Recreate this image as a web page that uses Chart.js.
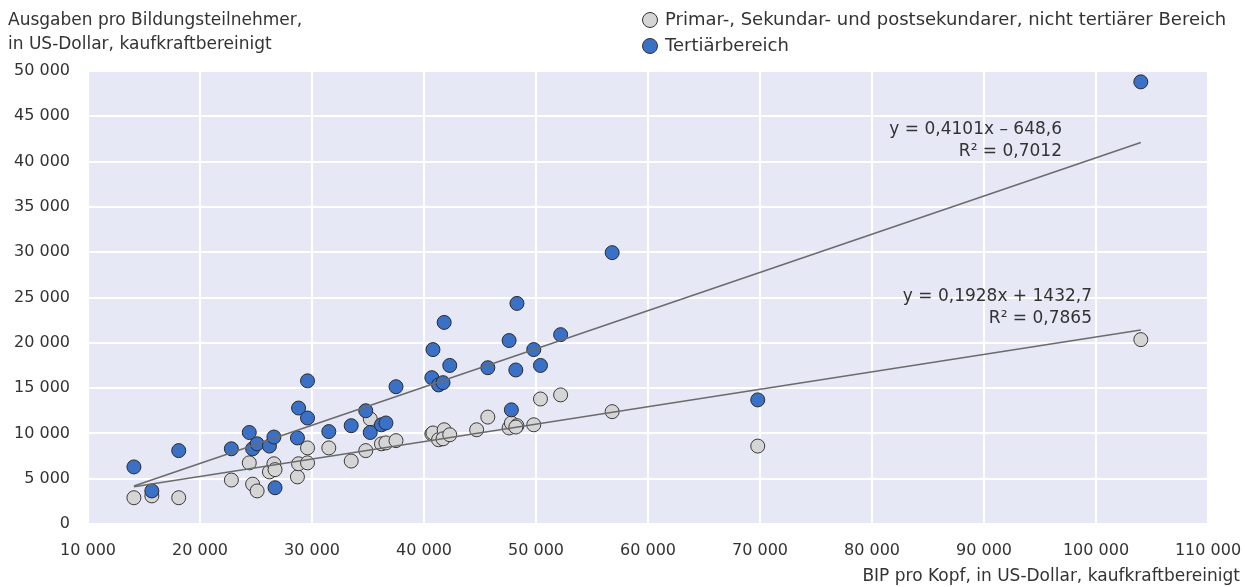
<!DOCTYPE html>
<html>
<head>
<meta charset="utf-8">
<title>Ausgaben pro Bildungsteilnehmer</title>
<script src="https://cdn.jsdelivr.net/npm/chart.js@4.4.1/dist/chart.umd.min.js"></script>
<style>
  html, body { margin: 0; padding: 0; background: #fff; }
  #wrap { width: 1245px; height: 587px; }
</style>
</head>
<body>
<div id="wrap"><canvas id="canvas"></canvas></div>
<script>
// BIP pro Kopf (x) und Ausgaben pro Bildungsteilnehmer (y)
const bipTertiaer = [14100, 15700, 18100, 22800, 24400, 24700, 25100, 26200, 26600, 26700,
  28700, 28800, 29600, 29600, 31500, 33500, 34800, 35200, 36200, 36600, 37500, 40700,
  40800, 41300, 41800, 41700, 42300, 45700, 47600, 47800, 48300, 48200, 49800, 50400,
  52200, 56800, 69800, 104000];
const ausgTertiaer = [6300, 3650, 8100, 8300, 10100, 8300, 8850, 8600, 9600, 4000,
  9500, 12800, 11700, 15800, 10200, 10850, 12500, 10100, 10950, 11150, 15150, 16150,
  19250, 15350, 22250, 15600, 17500, 17250, 20250, 12600, 24350, 17000, 19250, 17500,
  20900, 29950, 13700, 48800];

const bipSek = [14100, 15700, 18100, 22800, 24400, 24700, 25100, 26200, 26600, 26700,
  28700, 28800, 29600, 29600, 31500, 33500, 34800, 35200, 36200, 36600, 37500, 40700,
  40800, 41300, 41800, 41700, 42300, 44700, 45700, 47600, 47800, 48300, 48200, 49800,
  50400, 52200, 56800, 69800, 104000];
const ausgSek = [2900, 3100, 2900, 4850, 6750, 4400, 3650, 5750, 6650, 6000,
  5200, 6650, 8400, 6750, 8400, 6950, 8100, 11600, 8850, 8950, 9200, 9950,
  10050, 9300, 10400, 9400, 9850, 10400, 11800, 10600, 11150, 10850, 10700, 10950,
  13800, 14250, 12400, 8600, 20350];

const trendTertiaerX = [14100, 104000];
const trendTertiaerY = [4200, 42100];
const trendSekX = [14100, 104000];
const trendSekY = [4100, 21400];

const xTicks = [10000, 20000, 30000, 40000, 50000, 60000, 70000, 80000, 90000, 100000, 110000];

const seriesNames = ['Primar-, Sekundar- und postsekundarer, nicht tertiärer Bereich', 'Tertiärbereich'];
const yTitle = ['Ausgaben pro Bildungsteilnehmer,', 'in US-Dollar, kaufkraftbereinigt'];
const xTitle = 'BIP pro Kopf, in US-Dollar, kaufkraftbereinigt';
const eqTertiaer = ['y = 0,4101x – 648,6', 'R² = 0,7012'];
const eqSek = ['y = 0,1928x + 1432,7', 'R² = 0,7865'];

const FONT = '"DejaVu Sans", "Noto Sans", sans-serif';
const TEXT = '#333333';
const BLUE = '#3a70c5';
const GREY = '#d5d5d5';

const pts = (xs, ys) => xs.map((x, i) => ({ x: x, y: ys[i] }));
const fmt = v => String(v).replace(/\B(?=(\d{3})+(?!\d))/g, ' ');

const background = {
  id: 'background',
  beforeDraw(chart) {
    const { ctx, chartArea: a } = chart;
    ctx.save();
    ctx.fillStyle = '#e6e8f5';
    ctx.fillRect(a.left, a.top, a.right - a.left, a.bottom - a.top);
    ctx.restore();
  }
};

const labels = {
  id: 'labels',
  afterDraw(chart) {
    const ctx = chart.ctx;
    ctx.save();
    ctx.fillStyle = TEXT;
    ctx.textBaseline = 'middle';

    // Achsentitel oben links
    ctx.font = '17px ' + FONT;
    ctx.textAlign = 'left';
    ctx.fillText(yTitle[0], 8, 21);
    ctx.fillText(yTitle[1], 8, 45);

    // Legende
    ctx.font = '18px ' + FONT;
    const leg = [[GREY, seriesNames[0], 20], [BLUE, seriesNames[1], 46]];
    leg.forEach(([c, t, y]) => {
      ctx.beginPath();
      ctx.arc(650, y, 7.5, 0, Math.PI * 2);
      ctx.fillStyle = c;
      ctx.fill();
      ctx.lineWidth = 1;
      ctx.strokeStyle = '#333';
      ctx.stroke();
      ctx.fillStyle = TEXT;
      ctx.fillText(t, 665, y);
    });

    // x-Achsentitel
    ctx.font = '17px ' + FONT;
    ctx.textAlign = 'right';
    ctx.fillText(xTitle, 1240, 577);

    // Regressionsgleichungen
    ctx.font = '17px ' + FONT;
    ctx.fillText(eqTertiaer[0], 1062, 130);
    ctx.fillText(eqTertiaer[1], 1062, 152);
    ctx.fillText(eqSek[0], 1092, 297);
    ctx.fillText(eqSek[1], 1092, 319);
    ctx.restore();
  }
};

new Chart(document.getElementById('canvas'), {
  type: 'scatter',
  data: {
    datasets: [
      {
        type: 'line',
        label: 'Trend Tertiär',
        data: pts(trendTertiaerX, trendTertiaerY),
        borderColor: '#6b6b6b',
        borderWidth: 1.5,
        pointRadius: 0,
        order: 0
      },
      {
        type: 'line',
        label: 'Trend Sek',
        data: pts(trendSekX, trendSekY),
        borderColor: '#6b6b6b',
        borderWidth: 1.5,
        pointRadius: 0,
        order: 0
      },
      {
        label: seriesNames[1],
        data: pts(bipTertiaer, ausgTertiaer),
        backgroundColor: BLUE,
        borderColor: '#2b2b2b',
        borderWidth: 1,
        pointRadius: 7,
        order: 1
      },
      {
        label: seriesNames[0],
        data: pts(bipSek, ausgSek),
        backgroundColor: GREY,
        borderColor: '#3a3a3a',
        borderWidth: 1,
        pointRadius: 7,
        order: 2
      }
    ]
  },
  options: {
    responsive: true,
    maintainAspectRatio: false,
    animation: false,
    layout: { padding: { top: 71, right: 37, left: 0, bottom: 0 } },
    plugins: {
      legend: { display: false },
      tooltip: { enabled: false }
    },
    scales: {
      x: {
        type: 'linear',
        min: 10000,
        max: 110000,
        afterBuildTicks(scale) { scale.ticks = xTicks.map(v => ({ value: v })); },
        afterFit(scale) {
          scale.height = 63;
          scale.paddingLeft = 0;
          scale.paddingRight = 0;
        },
        border: { display: false },
        grid: { color: '#ffffff', lineWidth: 2, drawTicks: false },
        ticks: {
          color: TEXT,
          font: { family: FONT, size: 16 },
          padding: 17,
          maxRotation: 0,
          callback: v => fmt(v)
        }
      },
      y: {
        min: 0,
        max: 50000,
        afterFit(scale) { scale.width = 88; },
        border: { display: false },
        grid: { color: '#ffffff', lineWidth: 2, drawTicks: false },
        ticks: {
          stepSize: 5000,
          color: TEXT,
          font: { family: FONT, size: 16 },
          padding: 18,
          callback: v => fmt(v)
        }
      }
    }
  },
  plugins: [background, labels]
});
</script>
</body>
</html>
